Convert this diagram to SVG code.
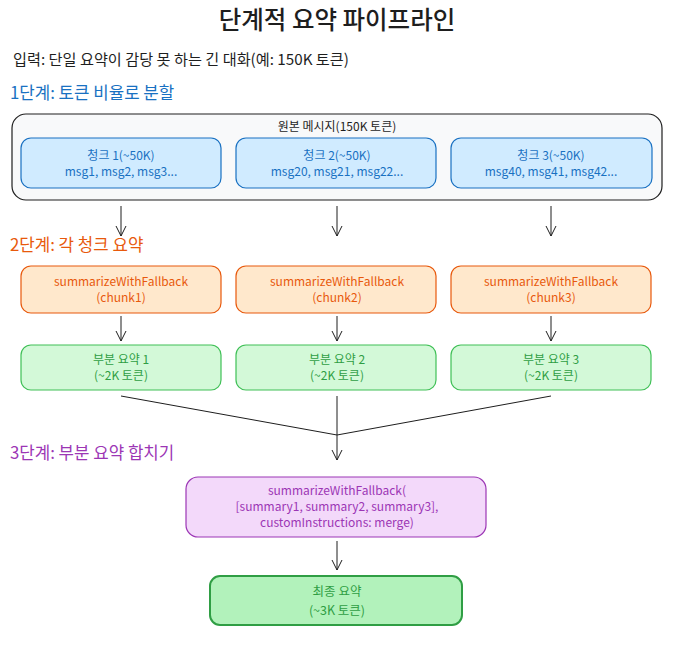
<svg xmlns="http://www.w3.org/2000/svg" width="674" height="647" viewBox="0 0 674 647">
<style>
text{font-family:"Noto Sans CJK KR","Noto Sans",sans-serif;}
.c{text-anchor:middle;}
.t{font-size:12px;}
.blue{fill:#1971c2;}
.org{fill:#e8590c;}
.grn{fill:#2f9e44;}
.pur{fill:#9c36b5;}
.chunk{fill:#d0ebff;stroke:#1971c2;stroke-width:1.2;}
.sum{fill:#ffe8cc;stroke:#e8590c;stroke-width:1.2;}
.part{fill:#d3f9d8;stroke:#40c057;stroke-width:1.2;}
.conn{stroke:#1e1e1e;stroke-width:1;fill:none;}
.head{font-size:16.8px;}
</style>
<defs>
<marker id="ah" markerWidth="12" markerHeight="12" refX="10" refY="6" orient="auto" markerUnits="userSpaceOnUse">
<path d="M0,1 L10,6 L0,11" fill="none" stroke="#1e1e1e" stroke-width="1"/>
</marker>
</defs>
<rect width="674" height="647" fill="#ffffff"/>
<text x="337" y="29" class="c" font-size="24.5" font-weight="500" fill="#1e1e1e">단계적 요약 파이프라인</text>
<text x="13" y="65" font-size="15.2" fill="#1e1e1e">입력: 단일 요약이 감당 못 하는 긴 대화(예: 150K 토큰)</text>
<text x="10" y="99" class="head blue">1단계: 토큰 비율로 분할</text>
<text x="10" y="251" class="head org">2단계: 각 청크 요약</text>
<text x="10" y="459" class="head pur">3단계: 부분 요약 합치기</text>

<g id="source">
<rect x="12" y="114" width="650" height="86" rx="14" fill="#f8f9fa" stroke="#1e1e1e" stroke-width="1.2"/>
<text x="337" y="131" class="c t" fill="#1e1e1e">원본 메시지(150K 토큰)</text>
</g>
<g id="chunk1">
<rect x="21" y="138" width="200" height="50" rx="10" class="chunk"/>
<text x="121" y="160" class="c t blue">청크 1(~50K)</text>
<text x="121" y="176" class="c t blue">msg1, msg2, msg3...</text>
</g>
<g id="chunk2">
<rect x="236" y="138" width="200" height="50" rx="10" class="chunk"/>
<text x="337" y="160" class="c t blue">청크 2(~50K)</text>
<text x="337" y="176" class="c t blue">msg20, msg21, msg22...</text>
</g>
<g id="chunk3">
<rect x="451" y="138" width="201" height="50" rx="10" class="chunk"/>
<text x="551" y="160" class="c t blue">청크 3(~50K)</text>
<text x="551" y="176" class="c t blue">msg40, msg41, msg42...</text>
</g>

<g id="sum1">
<rect x="21" y="266" width="200" height="47" rx="10" class="sum"/>
<text x="121" y="286" class="c t org">summarizeWithFallback</text>
<text x="121" y="302" class="c t org">(chunk1)</text>
</g>
<g id="sum2">
<rect x="236" y="266" width="200" height="47" rx="10" class="sum"/>
<text x="337" y="286" class="c t org">summarizeWithFallback</text>
<text x="337" y="302" class="c t org">(chunk2)</text>
</g>
<g id="sum3">
<rect x="451" y="266" width="200" height="47" rx="10" class="sum"/>
<text x="551" y="286" class="c t org">summarizeWithFallback</text>
<text x="551" y="302" class="c t org">(chunk3)</text>
</g>

<g id="part1">
<rect x="21" y="345" width="200" height="45" rx="10" class="part"/>
<text x="121" y="364" class="c t grn">부분 요약 1</text>
<text x="121" y="380" class="c t grn">(~2K 토큰)</text>
</g>
<g id="part2">
<rect x="236" y="345" width="200" height="45" rx="10" class="part"/>
<text x="337" y="364" class="c t grn">부분 요약 2</text>
<text x="337" y="380" class="c t grn">(~2K 토큰)</text>
</g>
<g id="part3">
<rect x="451" y="345" width="200" height="45" rx="10" class="part"/>
<text x="551" y="364" class="c t grn">부분 요약 3</text>
<text x="551" y="380" class="c t grn">(~2K 토큰)</text>
</g>

<g id="merge">
<rect x="186" y="477" width="300" height="60" rx="12" fill="#f3d9fa" stroke="#9c36b5" stroke-width="1.2"/>
<text x="337" y="495" class="c t pur">summarizeWithFallback(</text>
<text x="337" y="511" class="c t pur">[summary1, summary2, summary3],</text>
<text x="337" y="527" class="c t pur">customInstructions: merge)</text>
</g>

<g id="final">
<rect x="210" y="576" width="252" height="49" rx="10" fill="#b2f2bb" stroke="#2f9e44" stroke-width="2"/>
<text x="337" y="595.5" class="c" font-size="12.5" fill="#2f9e44">최종 요약</text>
<text x="337" y="614.5" class="c" font-size="12.5" fill="#2f9e44">(~3K 토큰)</text>
</g>

<g id="connectors">
<line x1="121" y1="206" x2="121" y2="236" class="conn" marker-end="url(#ah)"/>
<line x1="337" y1="206" x2="337" y2="236" class="conn" marker-end="url(#ah)"/>
<line x1="551" y1="206" x2="551" y2="236" class="conn" marker-end="url(#ah)"/>
<line x1="121" y1="316" x2="121" y2="341" class="conn" marker-end="url(#ah)"/>
<line x1="337" y1="316" x2="337" y2="341" class="conn" marker-end="url(#ah)"/>
<line x1="551" y1="316" x2="551" y2="341" class="conn" marker-end="url(#ah)"/>
<path d="M121,396 L337,435" class="conn"/>
<path d="M551,396 L337,435" class="conn"/>
<line x1="337" y1="396" x2="337" y2="460" class="conn" marker-end="url(#ah)"/>
<line x1="337" y1="541" x2="337" y2="570" class="conn" marker-end="url(#ah)"/>
</g>
</svg>
